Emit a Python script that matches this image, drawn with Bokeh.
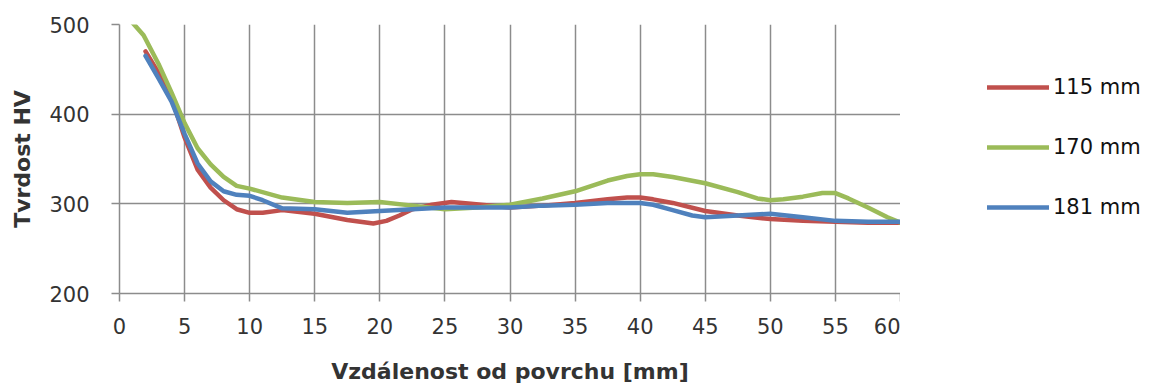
from bokeh.plotting import figure
from bokeh.models import Range1d, Legend, LegendItem, FixedTicker
from bokeh.layouts import row
from bokeh.embed import file_html
from bokeh.resources import INLINE

# distance from surface [mm] and hardness HV
x_115 = [2, 3, 4, 5, 6, 7, 8, 9, 10, 11, 12.5, 15, 17.5, 19.5, 20.5, 21.5, 22.5, 24, 25.5, 27, 30, 32.5, 35, 37.5, 39, 40, 41, 42.5, 45, 47.5, 50, 52.5, 55, 57.5, 60]
hv_115 = [470, 446, 418, 374, 338, 318, 304, 294, 290, 290, 293, 289, 282, 278, 281, 287, 294, 299, 302, 300, 296, 298, 301, 305, 307, 307, 305, 301, 292, 287, 283, 281, 280, 279, 279]

x_170 = [1, 1.85, 3, 4, 5, 6, 7, 8, 9, 10, 12.5, 15, 17.5, 20, 22.5, 25, 27.5, 30, 32.5, 35, 37.5, 39, 40, 41, 42.5, 45, 47.5, 49, 50, 51, 52.5, 54, 55, 56, 57.5, 59, 60]
hv_170 = [502, 488, 456, 424, 390, 362, 344, 330, 320, 317, 307, 302, 301, 302, 298, 294, 296, 299, 306, 314, 326, 331, 333, 333, 330, 323, 313, 306, 304, 305, 308, 312, 312, 306, 296, 285, 279]

x_181 = [2, 3, 4, 5, 6, 7, 8, 9, 10, 11, 12.5, 15, 17.5, 20, 22.5, 25, 27.5, 30, 32.5, 35, 37.5, 40, 41, 42.5, 44, 45, 47.5, 50, 52.5, 55, 57.5, 60]
hv_181 = [465, 440, 414, 378, 345, 325, 314, 310, 309, 304, 295, 294, 290, 292, 294, 296, 296, 296, 298, 299, 301, 301, 299, 293, 287, 285, 287, 289, 285, 281, 280, 280]

series_labels = ["115 mm", "170 mm", "181 mm"]
x_ticks = [0, 5, 10, 15, 20, 25, 30, 35, 40, 45, 50, 55, 60]
y_ticks = [200, 300, 400, 500]

colors = ["#C0504D", "#9BBB59", "#4F81BD"]
grid_col = "#8C8C8C"
text_col = "#333333"
font = "DejaVu Sans"

H = 387
TOP, BOTTOM = 24, 94
p = figure(width=900, height=H, output_backend="svg", toolbar_location=None,
           x_range=Range1d(0, 60), y_range=Range1d(200, 500),
           min_border_left=119, min_border_right=0, min_border_top=TOP, min_border_bottom=BOTTOM)
p.outline_line_color = None
p.background_fill_color = "white"

for xs, ys, c in zip([x_115, x_170, x_181], [hv_115, hv_170, hv_181], colors):
    p.line(xs, ys, line_color=c, line_width=4.5, line_join="round", line_cap="round")

p.xaxis.ticker = FixedTicker(ticks=x_ticks)
p.yaxis.ticker = FixedTicker(ticks=y_ticks)
for ax in (p.xaxis, p.yaxis):
    ax.axis_line_color = grid_col
    ax.axis_line_width = 1.5
    ax.major_tick_line_color = grid_col
    ax.major_tick_line_width = 1.5
    ax.major_tick_out = 8
    ax.major_tick_in = 0
    ax.minor_tick_line_color = None
    ax.major_label_text_font = font
    ax.major_label_text_font_size = "21px"
    ax.major_label_text_color = text_col
    ax.axis_label_text_font = font
    ax.axis_label_text_font_size = "22px"
    ax.axis_label_text_font_style = "bold"
    ax.axis_label_text_color = text_col

p.xaxis.axis_label = "Vzdálenost od povrchu [mm]"
p.yaxis.axis_label = "Tvrdost HV"
p.xaxis.major_label_standoff = 16
p.xaxis.axis_label_standoff = 22
p.yaxis.major_label_standoff = 22
p.yaxis.axis_label_standoff = 11

p.xgrid.grid_line_color = grid_col
p.ygrid.grid_line_color = grid_col
p.xgrid.grid_line_width = 1.5
p.ygrid.grid_line_width = 1.5

# legend panel to the right of the plot area (frame aligned with the main plot)
nan = float("nan")
pl = figure(width=250, height=H, output_backend="svg", toolbar_location=None,
            x_range=Range1d(0, 1), y_range=Range1d(0, 1),
            x_axis_type=None, y_axis_type=None,
            min_border_left=87, min_border_right=0, min_border_top=TOP, min_border_bottom=BOTTOM)
pl.outline_line_color = None
pl.grid.visible = False
lrs = [pl.line([nan, nan], [nan, nan], line_color=c, line_width=4.5, line_cap="round") for c in colors]

legend = Legend(items=[LegendItem(label=l, renderers=[r]) for l, r in zip(series_labels, lrs)],
                location=(0, 74))
legend.glyph_width = 62
legend.glyph_height = 22
legend.label_height = 22
legend.spacing = 36
legend.label_standoff = 4
legend.padding = 0
legend.margin = 0
legend.border_line_color = None
legend.background_fill_alpha = 0
legend.label_text_font = font
legend.label_text_font_size = "21px"
legend.label_text_color = "#111111"
pl.add_layout(legend, "center")

layout = row(p, pl)
open("out.html", "w").write(file_html(layout, INLINE))
